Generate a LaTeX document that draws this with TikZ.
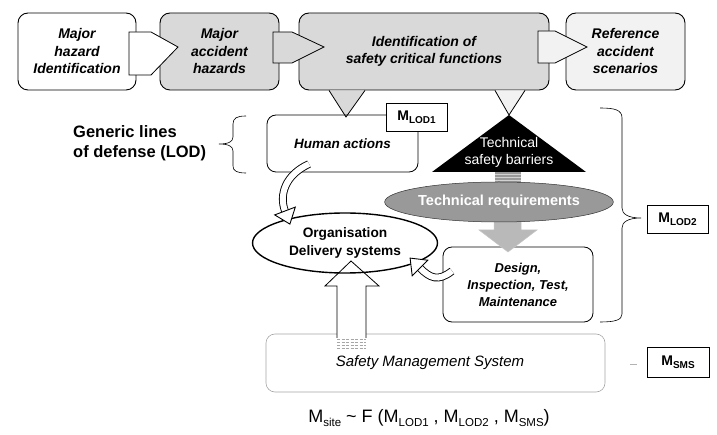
\documentclass[tikz,border=0pt]{standalone}
\usepackage{fontspec}
\setmainfont{Liberation Sans}
\usetikzlibrary{shapes.geometric,calc}
\definecolor{boxgrey}{gray}{0.85}
\definecolor{palegrey}{gray}{0.95}
\definecolor{midgrey}{gray}{0.6}
\newcommand{\mlab}[1]{M\raisebox{-0.45ex}{\fontsize{10}{10}\selectfont\bfseries #1}}
\newcommand{\mbig}[1]{M\raisebox{-0.5ex}{\fontsize{11.5}{11.5}\selectfont #1}}
\begin{document}
\begin{tikzpicture}[x=1pt,y=-1pt,
  topbox/.style={draw=black, line width=0.9pt, rounded corners=10pt, align=center,
    font=\fontsize{14}{17.5}\selectfont\bfseries\itshape, inner sep=0pt},
  midbox/.style={draw=black, line width=0.8pt, rounded corners=9pt, align=center,
    font=\fontsize{13.5}{17}\selectfont\bfseries\itshape, inner sep=0pt},
  smsbox/.style={draw=gray!70, line width=0.6pt, rounded corners=9pt, align=center,
    font=\fontsize{15}{17}\selectfont\itshape, inner sep=0pt},
  mbox/.style={draw=black, line width=0.8pt, fill=white, inner sep=0pt,
    font=\fontsize{14}{14}\selectfont\bfseries},
  blockarrow/.style={draw=black, line width=0.8pt, line join=miter},
  bracestyle/.style={draw=black, line width=0.6pt},
  hollow/.style={draw=black, line width=0.9pt, double=white, double distance=6pt},
  hollowhead/.style={draw=black, line width=0.9pt, fill=white, line join=miter},
  lbl/.style={inner sep=0pt, align=center}
]
\fill[white] (0,0) rectangle (717,435);
\useasboundingbox (0,0) rectangle (717,435);

% top row
\node[topbox, fill=white, minimum width=118pt, minimum height=77pt] (b1) at (77,51.5) {Major\\hazard\\Identification};
\node[topbox, fill=boxgrey, minimum width=119pt, minimum height=77pt] (b2) at (219.5,51.5) {Major\\accident\\hazards};
\node[topbox, fill=boxgrey, minimum width=250pt, minimum height=77pt] (b3) at (424,51.5) {Identification of\\safety critical functions};
\node[topbox, fill=palegrey, minimum width=119pt, minimum height=77pt] (b4) at (625.5,51.5) {Reference\\accident\\scenarios};

% block arrows between top boxes
\draw[blockarrow, fill=white] (129,32) -- (151,32) -- (178,47) -- (151,75) -- (129,75) -- cycle;
\draw[blockarrow, fill=boxgrey] (273,32) -- (292,32) -- (324,47) -- (292,63) -- (273,63) -- cycle;
\draw[blockarrow, fill=palegrey] (538,31) -- (555,31) -- (587,47) -- (555,63) -- (538,63) -- cycle;

% triangles hanging from box 3
\fill[boxgrey] (329,90.4) -- (365,90.4) -- (346,117) -- cycle;
\draw[line width=0.8pt] (329,90.4) -- (346,117) -- (365,90.4);
\fill[palegrey] (495,90.4) -- (525,90.4) -- (509,115) -- cycle;
\draw[line width=0.8pt] (495,90.4) -- (509,115) -- (525,90.4);

% left brace and label
\draw[bracestyle] (246,116) .. controls (237,116) and (233,118) .. (233,124) -- (233,137)
  .. controls (233,142) and (228,144) .. (219,144) .. controls (228,144) and (233,146) .. (233,151)
  -- (233,166) .. controls (233,171) and (237,173) .. (246,173);
\node[lbl, anchor=west, align=left, font=\fontsize{16.5}{20}\selectfont\bfseries] (gen) at (73,143) {Generic lines\\of defense (LOD)};

% human actions
\node[midbox, minimum width=151pt, minimum height=57pt] (ha) at (342.5,143.5) {Human actions};
\node[mbox, minimum width=61pt, minimum height=28pt] (m1) at (416.5,117) {\mlab{LOD1}};

% technical branch
\fill[midgrey] (495,171) rectangle (521,183);
\foreach \yy in {174,177,180} \draw[gray!35, line width=0.6pt] (495,\yy) -- (521,\yy);
\fill[black] (509,115) -- (432,172) -- (586,172) -- cycle;
\node[lbl, text=white, font=\fontsize{14}{17}\selectfont] (tsb) at (509,152) {Technical\\safety barriers};

\node[midbox, minimum width=150pt, minimum height=75pt, font=\fontsize{12.9}{17}\selectfont\bfseries\itshape] (dit) at (518,284.5) {Design,\\Inspection, Test,\\Maintenance};
\filldraw[fill=gray!55, draw=gray!45, line width=0.5pt] (494,218) -- (521,218) -- (521,230) -- (537,230) -- (508,252) -- (479,230) -- (494,230) -- cycle;
\node[ellipse, fill=midgrey, draw=gray!40!black, line width=0.5pt, minimum width=198pt, minimum height=40pt, inner sep=0pt, text=white, font=\fontsize{14.5}{14.5}\selectfont\bfseries] (tr) at (499,202) {Technical requirements};

% right brace and M_LOD2
\draw[bracestyle] (600,108) .. controls (615,108) and (622,110) .. (622,118) -- (622,208)
  .. controls (622,214) and (628,218) .. (641,218) .. controls (628,218) and (622,222) .. (622,228)
  -- (622,314) .. controls (622,320) and (615,322) .. (600,322);
\node[mbox, minimum width=61pt, minimum height=28pt] (m2) at (677.5,219) {\mlab{LOD2}};

% organisation ellipse
\node[ellipse, line width=1.4pt, minimum width=185pt, minimum height=60pt, inner sep=0pt, align=center,
  font=\fontsize{13.7}{18}\selectfont\bfseries] (org) at (345,243) {Organisation\\Delivery systems};

% safety management system
\node[smsbox, minimum width=339pt, minimum height=58pt] (sms) at (435.5,363) {\hspace*{-11pt}Safety Management System};
\node[mbox, minimum width=62pt, minimum height=30pt, line width=0.7pt] (m3) at (678,362) {\mlab{SMS}};
\draw[gray!60, line width=0.6pt] (630,364) -- (637,364);

% up arrow from SMS to organisation
\draw[blockarrow, fill=white] (337,338) -- (337,286) -- (325,286) -- (351,261) -- (379,286) -- (366,286) -- (366,338);
\foreach \yy in {339,342,345,348} \draw[gray!70, line width=0.6pt, dash pattern=on 3pt off 1.5pt] (337,\yy) -- (366,\yy);
\draw[line width=1.4pt] (org.center) ellipse [x radius=92.5pt, y radius=30pt];

% curved hollow arrow: human actions -> organisation
\draw[hollow] (309,164) .. controls (285,175) and (279,195) .. (285,211);
\draw[hollowhead] (295.3,207.1) -- (289.9,224.1) -- (274.7,214.9) -- cycle;

% curved hollow arrow: design -> organisation
\draw[hollow] (452,271) .. controls (438,282) and (430,278) .. (420,268);
\draw[hollowhead] (427.8,260.2) -- (410.1,258.1) -- (412.2,275.8) -- cycle;

% formula
\node[lbl, font=\fontsize{18}{18}\selectfont] (fx) at (429,418) {\mbig{site} \textasciitilde{} F (\mbig{LOD1} , \mbig{LOD2} , \mbig{SMS})};
\end{tikzpicture}
\end{document}
